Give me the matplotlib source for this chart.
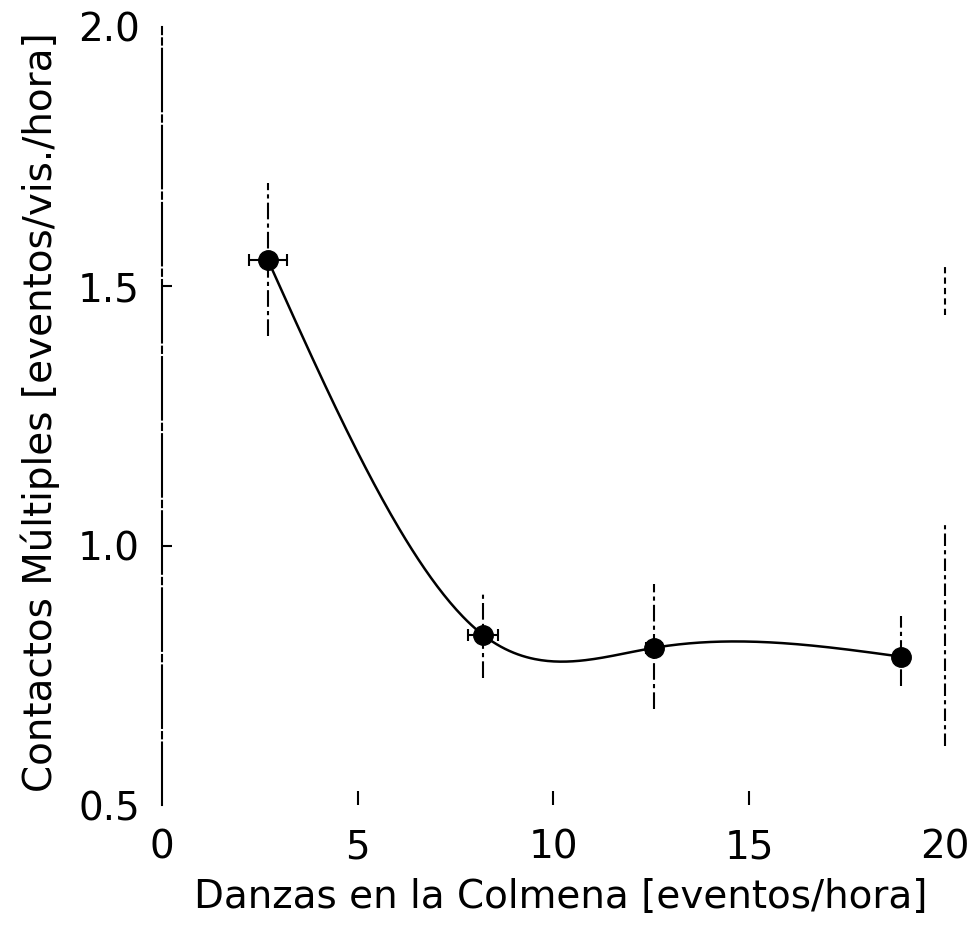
import numpy as np
import matplotlib
matplotlib.use('Agg')
import matplotlib.pyplot as plt

# data
danzas = [2.71, 8.20, 12.57, 18.88]
contactos = [1.55, 0.828, 0.803, 0.786]
err_x = [0.48, 0.38, 0.2, 0.0]
err_y_low = [0.145, 0.083, 0.118, 0.056]
err_y_high = [0.150, 0.081, 0.124, 0.079]

x_ticks = [0, 5, 10, 15, 20]
y_ticks = [0.5, 1.0, 1.5, 2.0]


def natural_spline(xs, ys, n=300):
    '''natural cubic spline through the measured points'''
    xs = np.asarray(xs, float)
    ys = np.asarray(ys, float)
    k = len(xs)
    h = np.diff(xs)
    A = np.zeros((k, k))
    b = np.zeros(k)
    A[0, 0] = A[-1, -1] = 1.0
    for i in range(1, k - 1):
        A[i, i - 1] = h[i - 1]
        A[i, i] = 2 * (h[i - 1] + h[i])
        A[i, i + 1] = h[i]
        b[i] = 6 * ((ys[i + 1] - ys[i]) / h[i] - (ys[i] - ys[i - 1]) / h[i - 1])
    M = np.linalg.solve(A, b)
    xx = np.linspace(xs[0], xs[-1], n)
    yy = np.empty_like(xx)
    for j, x in enumerate(xx):
        i = min(np.searchsorted(xs, x, side='right') - 1, k - 2)
        t0 = xs[i + 1] - x
        t1 = x - xs[i]
        yy[j] = (M[i] * t0 ** 3 + M[i + 1] * t1 ** 3) / (6 * h[i]) \
            + (ys[i] / h[i] - M[i] * h[i] / 6) * t0 \
            + (ys[i + 1] / h[i] - M[i + 1] * h[i] / 6) * t1
    return xx, yy


fig = plt.figure(figsize=(9.73, 9.27), dpi=100)
ax = fig.add_axes([0.1665, 0.1316, 0.8045, 0.8394])

sx, sy = natural_spline(danzas, contactos)
ax.plot(sx, sy, color='black', linewidth=1.8)

# vertical error bars (dashed), horizontal ones with small caps
for x, y, lo, hi in zip(danzas, contactos, err_y_low, err_y_high):
    ax.plot([x, x], [y - lo, y + hi], color='black', linewidth=1.5,
            linestyle=(0, (8, 2, 2, 2)))
ax.errorbar(danzas, contactos, xerr=err_x, fmt='o', color='black',
            markersize=14, elinewidth=1.5, capsize=4, capthick=1.5)

ax.set_xlim(0, 20)
ax.set_ylim(0.5, 2.0)
ax.set_xticks(x_ticks)
ax.set_yticks(y_ticks)
ax.set_xticklabels([str(t) for t in x_ticks])
ax.set_yticklabels(['%.1f' % t for t in y_ticks])

for s in ['top', 'bottom', 'right']:
    ax.spines[s].set_visible(False)
ax.spines['left'].set_linewidth(1.5)
ax.spines['left'].set_linestyle((0, (30, 2, 3, 2)))

# broken right-hand frame, as in the scan
ax.plot([20, 20], [1.444, 1.54], color='black', linewidth=1.5,
        linestyle=(0, (3, 2)), clip_on=False)
ax.plot([20, 20], [0.614, 1.048], color='black', linewidth=1.5,
        linestyle=(0, (6, 2, 2, 2)), clip_on=False)

ax.tick_params(axis='both', direction='in', width=1.5, labelsize=28)
ax.tick_params(axis='x', length=10, pad=17)
ax.tick_params(axis='y', length=7, pad=16)
for t in ax.xaxis.get_major_ticks():
    if t.get_loc() in (0, 20):
        t.tick1line.set_visible(False)
for t in ax.yaxis.get_major_ticks():
    if t.get_loc() in (0.5, 2.0):
        t.tick1line.set_visible(False)

ax.set_xlabel('Danzas en la Colmena [eventos/hora]', fontsize=28)
ax.set_ylabel('Contactos Múltiples [eventos/vis./hora]', fontsize=28)
ax.xaxis.set_label_coords(0.51, -0.094)
ax.yaxis.set_label_coords(-0.13, 0.505)

fig.savefig('out.png', dpi=100)
